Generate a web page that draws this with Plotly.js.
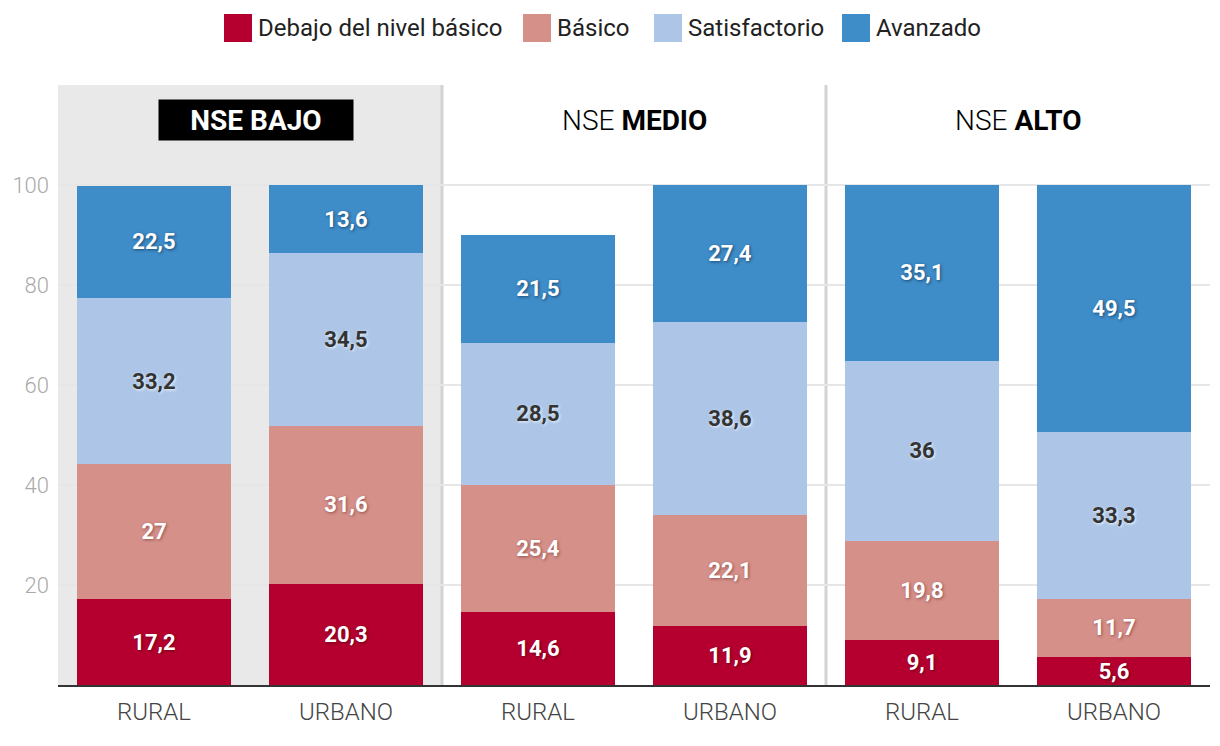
<!DOCTYPE html>
<html>
<head>
<meta charset="utf-8">
<script src="https://cdn.plot.ly/plotly-3.0.1.min.js"></script>
<style>html,body{margin:0;padding:0;background:#fff}#chart{width:1220px;height:746px}</style>
</head>
<body>
<div id="chart"></div>
<script>
const categories = ["RURAL", "URBANO", "RURAL", "URBANO", "RURAL", "URBANO"];
const groups = ["NSE BAJO", "NSE MEDIO", "NSE ALTO"];
const seriesNames = ["Debajo del nivel básico", "Básico", "Satisfactorio", "Avanzado"];
const debajo = [17.2, 20.3, 14.6, 11.9, 9.1, 5.6];
const basico = [27, 31.6, 25.4, 22.1, 19.8, 11.7];
const satisfactorio = [33.2, 34.5, 28.5, 38.6, 36, 33.3];
const avanzado = [22.5, 13.6, 21.5, 27.4, 35.1, 49.5];
const yTicks = [20, 40, 60, 80, 100];

const colors = ["#b5002f", "#d6908a", "#adc6e7", "#3e8cc8"];
const textColors = ["#ffffff", "#ffffff", "#333333", "#ffffff"];
const shadows = ["1px 1px 3px rgba(60,0,0,0.6)", "1px 1px 3px rgba(80,20,20,0.5)", "1px 1px 3px rgba(255,255,255,0.8)", "1px 1px 3px rgba(0,30,60,0.6)"];
const seriesVals = [debajo, basico, satisfactorio, avanzado];
const xIdx = categories.map((c, i) => i);
const fmt = v => String(v).replace('.', ',');

const FONT = "Roboto, 'Noto Sans', sans-serif";

// plot geometry (pixels) used to place the custom legend
const W = 1220, H = 746, ML = 58, MR = 10, MT = 85, MB = 61;
const PW = W - ML - MR, PH = H - MT - MB;
const px2x = p => (p - ML) / PW;
const py2y = p => (H - MB - p) / PH;
const legendSwatchLeft = [224, 523, 654, 842];
const legendY = 28, sw = 28;

const traces = seriesVals.map((vals, k) => ({
  type: 'bar',
  name: seriesNames[k],
  x: xIdx,
  y: vals,
  text: vals.map(fmt),
  textposition: 'inside',
  insidetextanchor: 'middle',
  textangle: 0,
  textfont: {family: FONT, size: 22, color: textColors[k], weight: 700, shadow: shadows[k]},
  marker: {color: colors[k], line: {width: 0}},
  showlegend: false,
  hoverinfo: 'skip'
}));

const shapes = [
  {type: 'rect', xref: 'x', yref: 'y', x0: -0.5, x1: 1.5, y0: 0, y1: 120, fillcolor: '#e9e9e9', line: {width: 0}, layer: 'below'},
  {type: 'line', xref: 'x', yref: 'y', x0: 1.5, x1: 1.5, y0: 0, y1: 120, line: {color: '#d3d3d3', width: 3}, layer: 'below'},
  {type: 'line', xref: 'x', yref: 'y', x0: 3.5, x1: 3.5, y0: 0, y1: 120, line: {color: '#d3d3d3', width: 3}, layer: 'below'}
];

const annotations = [
  {xref: 'x', yref: 'y', x: 0.53, y: 113, text: '<b>NSE BAJO</b>', showarrow: false,
   font: {family: FONT, size: 28, color: '#ffffff'}, bgcolor: '#000000', width: 192, height: 38, xanchor: 'center', yanchor: 'middle'},
  {xref: 'x', yref: 'y', x: 2.5, y: 113, text: '<span style="font-weight:300">NSE</span> <b>MEDIO</b>', showarrow: false,
   font: {family: FONT, size: 28, color: '#000000'}, xanchor: 'center', yanchor: 'middle'},
  {xref: 'x', yref: 'y', x: 4.5, y: 113, text: '<span style="font-weight:300">NSE</span> <b>ALTO</b>', showarrow: false,
   font: {family: FONT, size: 28, color: '#000000'}, xanchor: 'center', yanchor: 'middle'}
];

seriesNames.forEach((name, k) => {
  const l = legendSwatchLeft[k];
  shapes.push({type: 'rect', xref: 'paper', yref: 'paper',
    x0: px2x(l), x1: px2x(l + sw), y0: py2y(legendY + sw / 2), y1: py2y(legendY - sw / 2),
    fillcolor: colors[k], line: {width: 0}});
  annotations.push({xref: 'paper', yref: 'paper', x: px2x(l + sw + 4), y: py2y(legendY),
    text: name, showarrow: false, xanchor: 'left', yanchor: 'middle',
    font: {family: FONT, size: 24, color: '#222'}});
});

const layout = {
  width: W, height: H,
  margin: {l: ML, r: MR, t: MT, b: MB},
  paper_bgcolor: '#ffffff',
  plot_bgcolor: '#ffffff',
  barmode: 'stack',
  bargap: 0.2,
  font: {family: FONT, color: '#333'},
  uniformtext: {minsize: 22, mode: 'show'},
  showlegend: false,
  xaxis: {
    range: [-0.5, 5.5], tickvals: xIdx, ticktext: categories,
    tickfont: {family: FONT, size: 24, color: '#444', weight: 300},
    showgrid: false, zeroline: false, showline: true, linecolor: '#333', linewidth: 2,
    ticks: '', ticklabelstandoff: 4, fixedrange: true
  },
  yaxis: {
    range: [0, 120], tickvals: yTicks, ticktext: yTicks.map(String),
    tickfont: {family: FONT, size: 22, color: '#aaaaaa', weight: 300},
    showgrid: true, gridcolor: '#e6e6e6', gridwidth: 1.5, zeroline: false, showline: false,
    ticks: '', ticklabelstandoff: 8, fixedrange: true
  },
  shapes: shapes,
  annotations: annotations
};

Plotly.newPlot('chart', traces, layout, {displayModeBar: false, staticPlot: true});
</script>
</body>
</html>
